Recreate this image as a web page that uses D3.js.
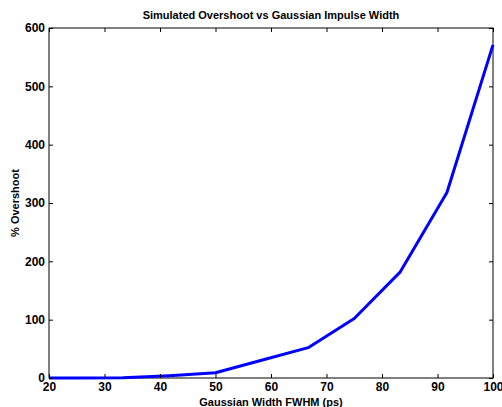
<!DOCTYPE html>
<html><head><meta charset="utf-8">
<script src="https://cdn.jsdelivr.net/npm/d3@7"></script>
<style>body{margin:0;background:#fff}svg{display:block}text{font-family:"Liberation Sans",Arial,sans-serif;font-weight:bold;fill:#000}</style>
</head><body>
<script>
const widths = [20, 25, 33.3, 41.7, 50, 58.3, 66.7, 75, 83.3, 91.7, 100];
const overshoot = [0, 0, 0.5, 4, 9, 30.5, 52, 102, 182, 318, 571];
const xTicks = [20, 30, 40, 50, 60, 70, 80, 90, 100];
const yTicks = [0, 100, 200, 300, 400, 500, 600];
const title = "Simulated Overshoot vs Gaussian Impulse Width";
const xLabel = "Gaussian Width FWHM (ps)";
const yLabel = "% Overshoot";

const W = 502, H = 407;
const m = {l: 49, r: 9, t: 28, b: 29};
const svg = d3.select("body").append("svg").attr("width", W).attr("height", H);
const x = d3.scaleLinear().domain([20, 100]).range([m.l, W - m.r]);
const y = d3.scaleLinear().domain([0, 600]).range([H - m.b, m.t]);

const tl = 4;
const g = svg.append("g");
// frame
g.append("rect").attr("x", m.l).attr("y", m.t).attr("width", W - m.r - m.l).attr("height", H - m.b - m.t)
  .attr("fill", "none").attr("stroke", "#000").attr("stroke-width", 1);

// line
svg.append("path").datum(widths.map((w, i) => [w, overshoot[i]]))
  .attr("d", d3.line().x(d => x(d[0])).y(d => y(d[1])))
  .attr("fill", "none").attr("stroke", "#0000ff").attr("stroke-width", 3).attr("stroke-linejoin", "round");

// axes
const xb = svg.append("g").attr("transform", `translate(0,${H - m.b})`)
  .call(d3.axisBottom(x).tickValues(xTicks).tickSizeInner(-tl).tickSizeOuter(0).tickPadding(4));
const xt = svg.append("g").attr("transform", `translate(0,${m.t})`)
  .call(d3.axisTop(x).tickValues(xTicks).tickSizeInner(-tl).tickSizeOuter(0).tickFormat(""));
const yl = svg.append("g").attr("transform", `translate(${m.l},0)`)
  .call(d3.axisLeft(y).tickValues(yTicks).tickSizeInner(-tl).tickSizeOuter(0).tickPadding(4));
const yr = svg.append("g").attr("transform", `translate(${W - m.r},0)`)
  .call(d3.axisRight(y).tickValues(yTicks).tickSizeInner(-tl).tickSizeOuter(0).tickFormat(""));
[xb, xt, yl, yr].forEach(a => {
  a.select(".domain").remove();
  a.selectAll("line").attr("stroke", "#000");
  a.selectAll("text").attr("font-size", 12).attr("font-family", '"Liberation Sans",Arial,sans-serif').attr("font-weight", "bold").attr("fill", "#000");
});

svg.append("text").attr("x", (m.l + W - m.r) / 2).attr("y", 19).attr("text-anchor", "middle")
  .attr("font-size", 11).text(title);
svg.append("text").attr("x", (m.l + W - m.r) / 2).attr("y", 406).attr("text-anchor", "middle")
  .attr("font-size", 11).text(xLabel);
svg.append("text").attr("transform", `translate(19,${(m.t + H - m.b) / 2}) rotate(-90)`).attr("text-anchor", "middle")
  .attr("font-size", 11).text(yLabel);
</script>
</body></html>
